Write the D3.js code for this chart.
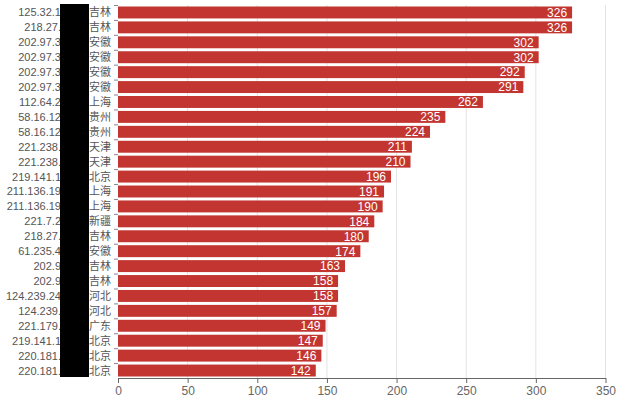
<!DOCTYPE html>
<html>
<head>
<meta charset="utf-8">
<script src="https://cdnjs.cloudflare.com/ajax/libs/d3/7.8.5/d3.min.js"></script>
<style>
  html, body { margin: 0; padding: 0; background: #fff; }
  svg { display: block; }
  text { font-family: "Liberation Sans", "Noto Sans CJK SC", sans-serif; }
</style>
</head>
<body>
<svg id="chart" width="619" height="397"></svg>
<script>
// visible part of each IP (the rest is covered by the black box)
const ipPrefixes = [
  "125.32.1", "218.27.", "202.97.3", "202.97.3", "202.97.3", "202.97.3",
  "112.64.2", "58.16.12", "58.16.12", "221.238.", "221.238.", "219.141.1",
  "211.136.19", "211.136.19", "221.7.2", "218.27.", "61.235.4", "202.9",
  "202.9", "124.239.24", "124.239.", "221.179.", "219.141.1", "220.181.", "220.181."
];
const provinces = [
  "吉林", "吉林", "安徽", "安徽", "安徽", "安徽",
  "上海", "贵州", "贵州", "天津", "天津", "北京",
  "上海", "上海", "新疆", "吉林", "安徽", "吉林",
  "吉林", "河北", "河北", "广东", "北京", "北京", "北京"
];
const counts = [
  326, 326, 302, 302, 292, 291,
  262, 235, 224, 211, 210, 196,
  191, 190, 184, 180, 174, 163,
  158, 158, 157, 149, 147, 146, 142
];
const xTicks = [0, 50, 100, 150, 200, 250, 300, 350];

const rows = counts.map((v, i) => ({ id: i, ip: ipPrefixes[i], prov: provinces[i], value: v }));

const plotLeft = 118, plotRight = 605.5, plotTop = 5, plotBottom = 378;
const svg = d3.select("#chart");

const x = d3.scaleLinear().domain([0, 350]).range([plotLeft, plotRight]);
const y = d3.scaleBand().domain(rows.map(d => d.id)).range([plotTop, plotBottom]).paddingInner(0.2).paddingOuter(0.1);
const band = d3.scaleBand().domain(rows.map(d => d.id)).range([plotTop, plotBottom]);

// vertical grid lines
svg.append("g")
  .selectAll("line")
  .data(xTicks.filter(t => t > 0))
  .enter()
  .append("line")
  .attr("x1", d => x(d)).attr("x2", d => x(d))
  .attr("y1", plotTop).attr("y2", plotBottom)
  .attr("stroke", "#e3e3e3");

// bars
svg.append("g")
  .selectAll("rect")
  .data(rows)
  .enter()
  .append("rect")
  .attr("x", x(0))
  .attr("y", d => y(d.id))
  .attr("width", d => x(d.value) - x(0))
  .attr("height", y.bandwidth())
  .attr("fill", "#c23531");

// value labels inside bar ends
svg.append("g")
  .selectAll("text")
  .data(rows)
  .enter()
  .append("text")
  .attr("x", d => x(d.value) - 5)
  .attr("y", d => y(d.id) + y.bandwidth() / 2)
  .attr("dy", "0.36em")
  .attr("text-anchor", "end")
  .attr("fill", "#fff")
  .attr("font-size", 12)
  .text(d => d.value);

// x axis
const xAxis = svg.append("g")
  .attr("transform", `translate(0,${plotBottom})`)
  .call(d3.axisBottom(x).tickValues(xTicks).tickSize(5).tickSizeOuter(0));
xAxis.select(".domain").attr("stroke", "#666");
xAxis.selectAll(".tick line").attr("stroke", "#666");
xAxis.selectAll(".tick text")
  .attr("fill", "#666")
  .attr("font-size", 12)
  .attr("y", 8)
  .style("font-family", "'Liberation Sans', sans-serif");

// y ticks at band boundaries
svg.append("g")
  .selectAll("line")
  .data(rows)
  .enter()
  .append("line")
  .attr("x1", plotLeft - 4).attr("x2", plotLeft)
  .attr("y1", d => band(d.id) + 0.5).attr("y2", d => band(d.id) + 0.5)
  .attr("stroke", "#888");

// y labels: ip part and province part
const yLab = svg.append("g").attr("font-size", 11).attr("fill", "#555");
yLab.selectAll("text.ip")
  .data(rows)
  .enter()
  .append("text")
  .attr("class", "ip")
  .attr("x", 61)
  .attr("y", d => band(d.id) + band.bandwidth() / 2)
  .attr("dy", "0.36em")
  .attr("text-anchor", "end")
  .text(d => d.ip);
yLab.selectAll("text.prov")
  .data(rows)
  .enter()
  .append("text")
  .attr("class", "prov")
  .attr("x", 111)
  .attr("y", d => band(d.id) + band.bandwidth() / 2)
  .attr("dy", "0.36em")
  .attr("text-anchor", "end")
  .style("font-family", "'Noto Sans CJK SC', sans-serif")
  .text(d => d.prov);

// redaction box
svg.append("rect")
  .attr("x", 60).attr("y", 4)
  .attr("width", 29).attr("height", 373)
  .attr("fill", "#000");
</script>
</body>
</html>
